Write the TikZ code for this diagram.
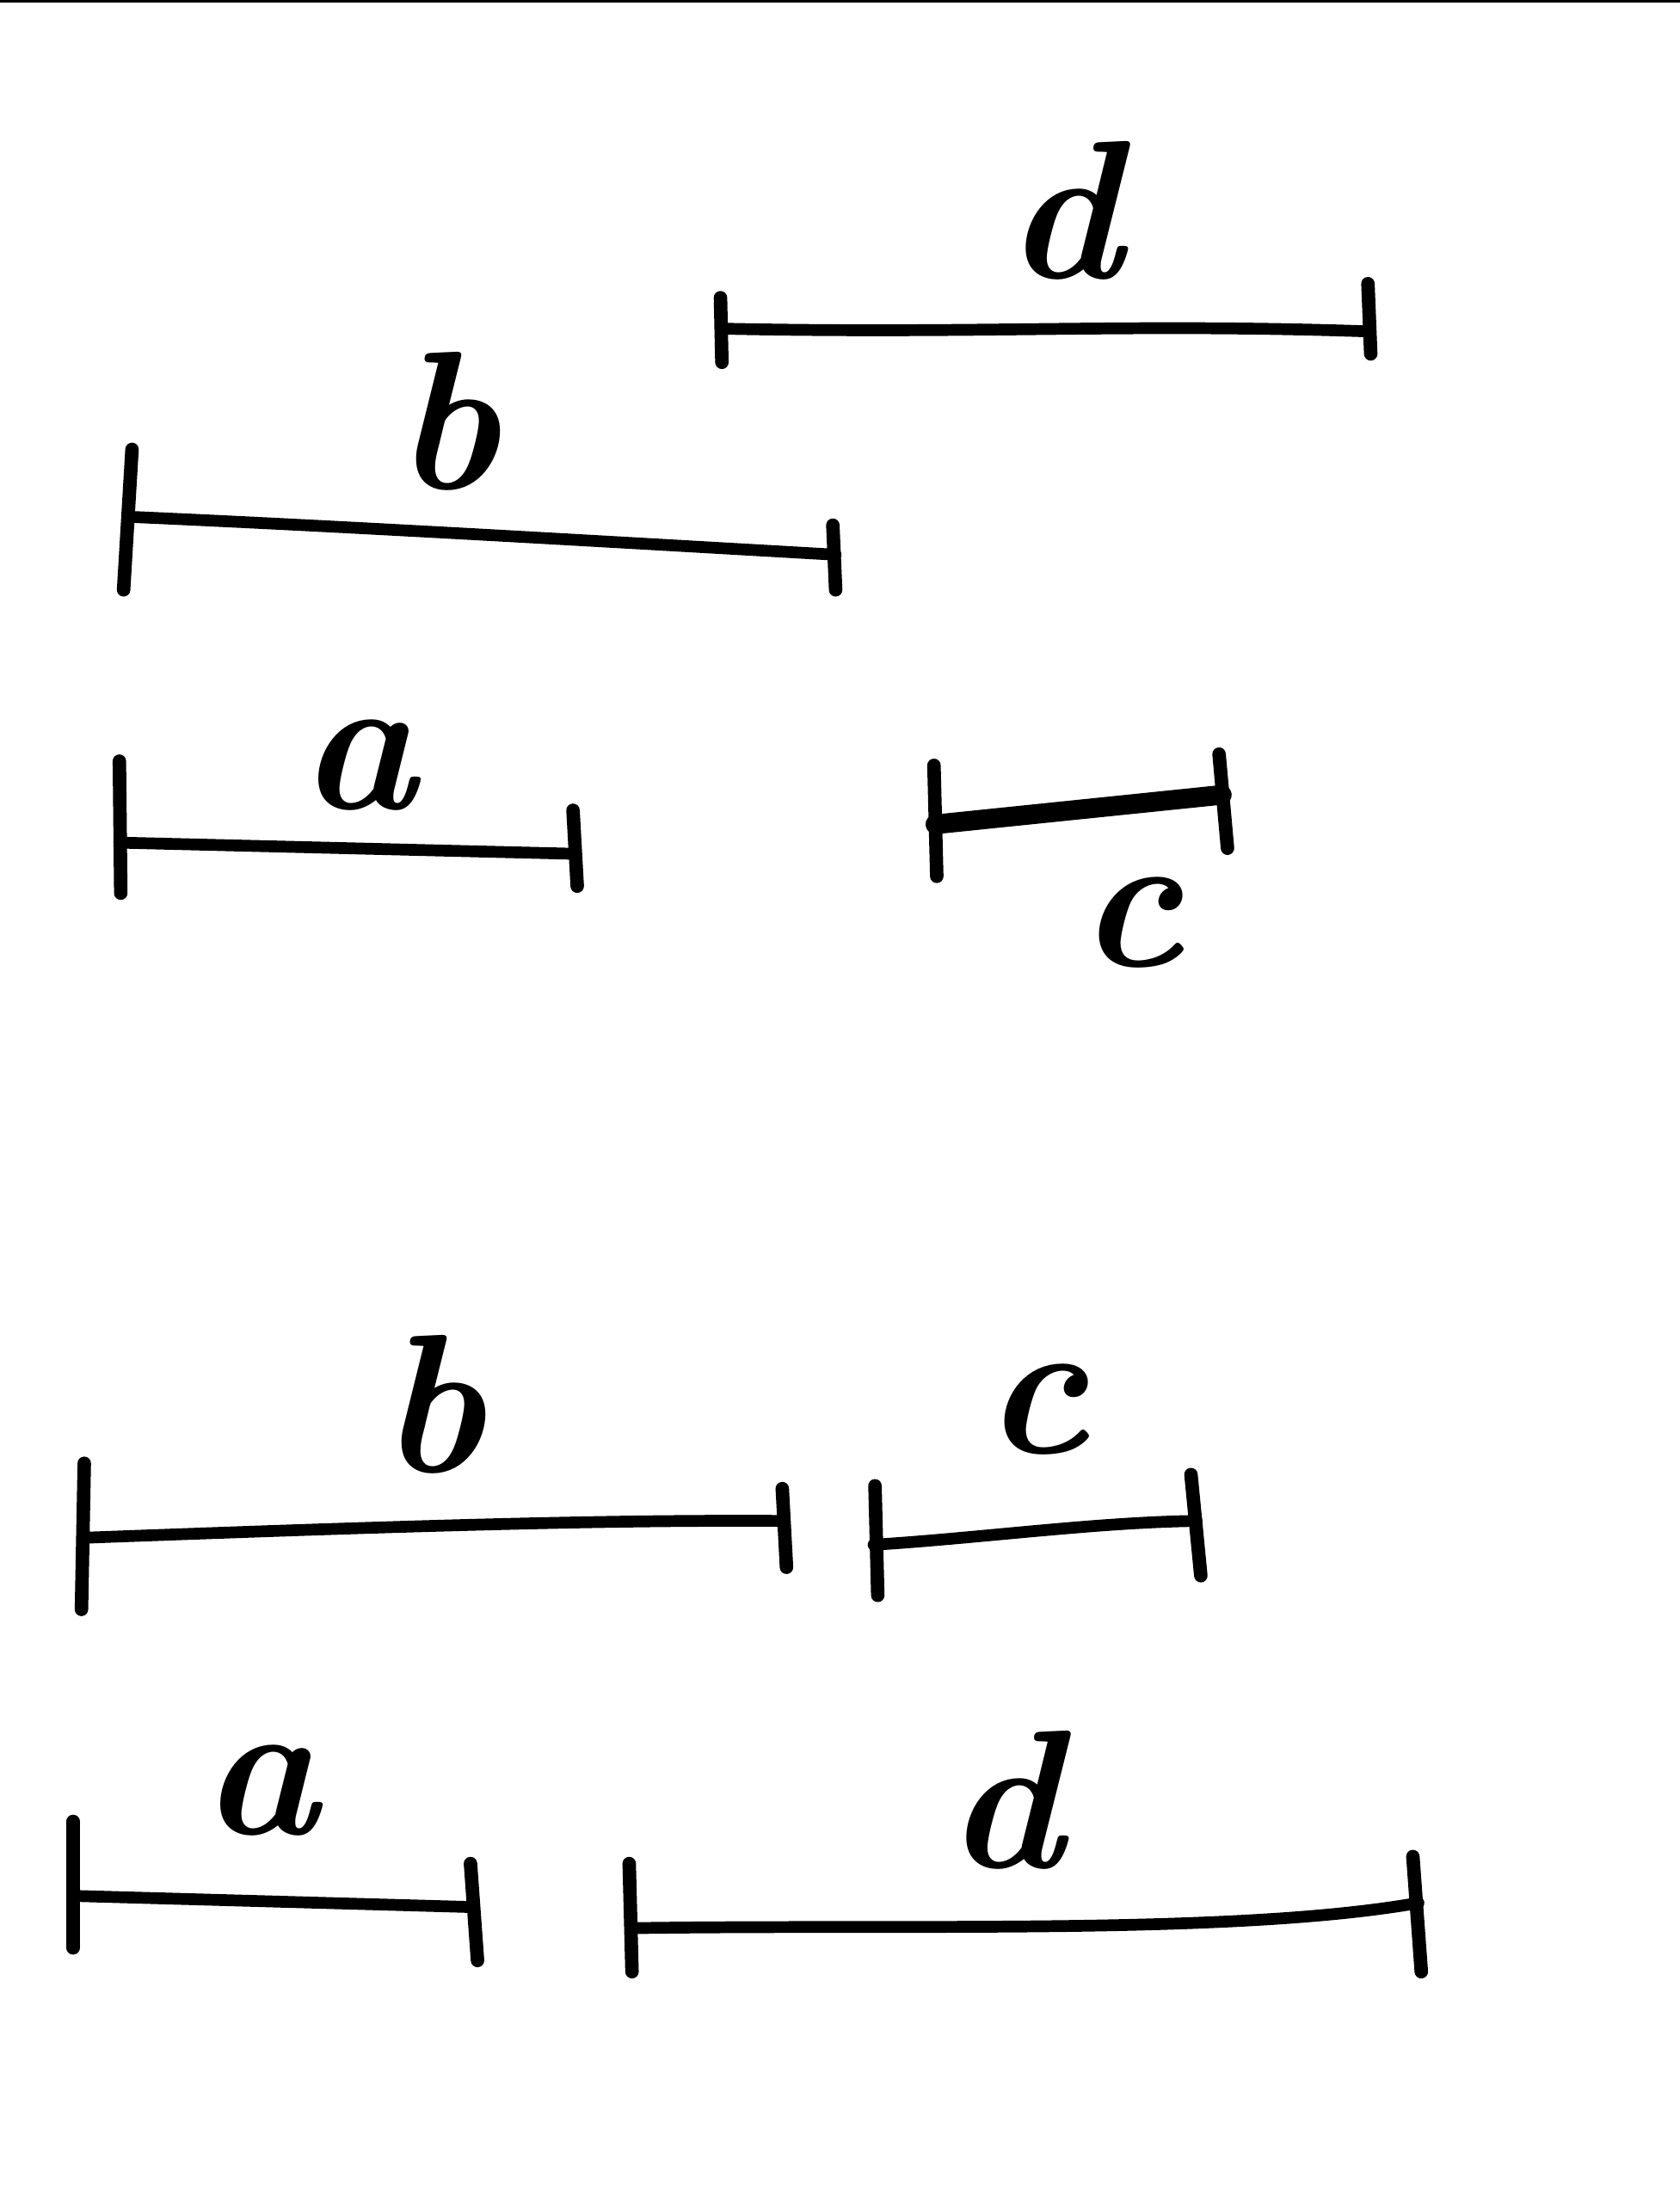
\documentclass[tikz,border=0pt]{standalone}
\begin{document}
\begin{tikzpicture}[x=0.05cm,y=-0.05cm,
  seg/.style={line width=0.42cm,line cap=round,line join=round},
  thickseg/.style={line width=0.7cm,line cap=round},
  tick/.style={line width=0.48cm,line cap=round},
  lbl/.style={anchor=base,inner sep=0pt,font=\fontsize{200}{200}\selectfont\bfseries\itshape}]
\useasboundingbox (0,0) rectangle (1196,1568);
\fill[white] (0,0) rectangle (1196,1568);
\draw[line width=0.12cm] (0,0.6) -- (1196,0.6);
% top d
\coordinate (dL) at (513,234); \coordinate (dR) at (975,236);
\draw[tick] (513,212) -- (514,258); \draw[tick] (974,202) -- (976,252);
\draw[seg] (dL) .. controls (700,238) and (800,230) .. (dR);
\node[lbl] (ld1) at (757,198) {d};
% top b
\coordinate (bL) at (92,368); \coordinate (bR) at (595,395);
\draw[tick] (94,320) -- (88,420); \draw[tick] (593,374) -- (595,420);
\draw[seg] (bL) .. controls (250,375) and (420,385) .. (bR);
\node[lbl] (lb1) at (318,348) {b};
% top a
\coordinate (aL) at (85,600); \coordinate (aR) at (410,608);
\draw[tick] (85,542) -- (86,636); \draw[tick] (408,577) -- (411,631);
\draw[seg] (aL) -- (aR);
\node[lbl] (la1) at (255,576) {a};
% top c
\coordinate (cL) at (666,587); \coordinate (cR) at (870,566);
\draw[tick] (665,545) -- (667,624); \draw[tick] (868,537) -- (874,604);
\draw[thickseg] (cL) -- (cR);
\node[lbl] (lc1) at (805,688) {c};
% bottom b
\coordinate (b2L) at (60,1095); \coordinate (b2R) at (557,1083);
\draw[tick] (60,1042) -- (58,1146); \draw[tick] (557,1060) -- (560,1116);
\draw[seg] (b2L) .. controls (250,1088) and (420,1082) .. (b2R);
\node[lbl] (lb2) at (308,1048) {b};
% bottom c
\coordinate (c2L) at (622,1100); \coordinate (c2R) at (852,1083);
\draw[tick] (623,1058) -- (625,1136); \draw[tick] (848,1050) -- (855,1122);
\draw[seg] (c2L) .. controls (700,1095) and (780,1084) .. (c2R);
\node[lbl] (lc2) at (738,1035) {c};
% bottom a
\coordinate (a2L) at (52,1350); \coordinate (a2R) at (337,1358);
\draw[tick] (52,1297) -- (52,1387); \draw[tick] (335,1327) -- (340,1396);
\draw[seg] (a2L) -- (a2R);
\node[lbl] (la2) at (185,1306) {a};
% bottom d
\coordinate (d2L) at (450,1373); \coordinate (d2R) at (1010,1355);
\draw[tick] (448,1327) -- (450,1404); \draw[tick] (1006,1322) -- (1012,1404);
\draw[seg] (d2L) .. controls (650,1370) and (880,1378) .. (d2R);
\node[lbl] (ld2) at (715,1330) {d};
\end{tikzpicture}
\end{document}
